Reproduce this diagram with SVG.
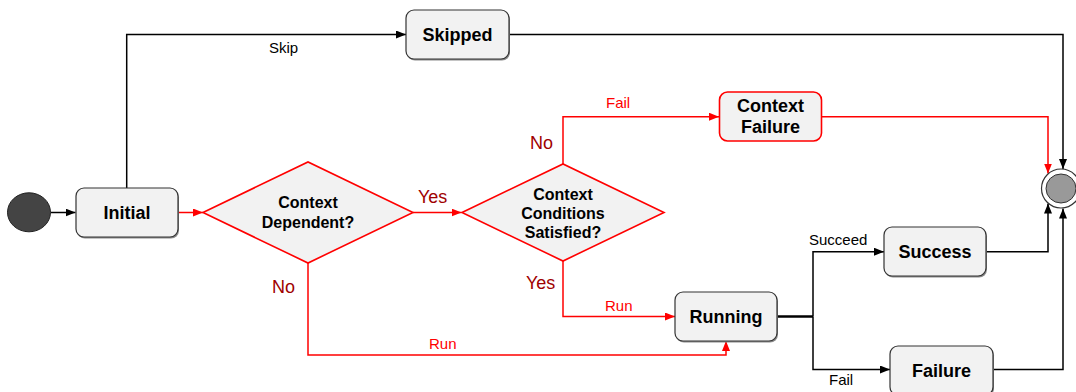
<svg xmlns="http://www.w3.org/2000/svg" width="1076" height="392" viewBox="0 0 1076 392">
<style>
.node{fill:#f2f2f2;stroke:#333;stroke-width:1.2}
.shadow{fill:#8a8a8a}
.rnode{fill:#f2f2f2;stroke:#ff0000;stroke-width:1.6}
.nt{font-family:"Liberation Sans",Arial,sans-serif;font-weight:bold;font-size:18px;fill:#000;text-anchor:middle}
.dt{font-family:"Liberation Sans",Arial,sans-serif;font-weight:bold;font-size:16px;fill:#000;text-anchor:middle}
.lb{font-family:"Liberation Sans",Arial,sans-serif;font-size:15px;fill:#000}
.lr{font-family:"Liberation Sans",Arial,sans-serif;font-size:15px;fill:#ff0000}
.ld{font-family:"Liberation Sans",Arial,sans-serif;font-size:18px;fill:#a00000}
.blk{fill:none;stroke:#000;stroke-width:1.5}
.red{fill:none;stroke:#ff0000;stroke-width:1.5}
</style>
<defs>
<marker id="ab" viewBox="0 0 10 8" refX="10" refY="4" markerWidth="10" markerHeight="8" markerUnits="userSpaceOnUse" orient="auto"><path d="M0,0 L10,4 L0,8 Z" fill="#000"/></marker>
<marker id="ar" viewBox="0 0 10 8" refX="10" refY="4" markerWidth="10" markerHeight="8" markerUnits="userSpaceOnUse" orient="auto"><path d="M0,0 L10,4 L0,8 Z" fill="#ff0000"/></marker>
</defs>

<g id="connectors">
<path class="blk" d="M50.7,212.5 H75.5" marker-end="url(#ab)"/>
<path class="blk" d="M126.7,188 V34.5 H406" marker-end="url(#ab)"/>
<path class="blk" d="M509,34.5 H1063 V169" marker-end="url(#ab)"/>
<path class="red" d="M178,212.5 H203" marker-end="url(#ar)"/>
<path class="red" d="M413,212.5 H461.5" marker-end="url(#ar)"/>
<path class="red" d="M563,164 V116.7 H719" marker-end="url(#ar)"/>
<path class="red" d="M822,116.7 H1048 V173.5" marker-end="url(#ar)"/>
<path class="red" d="M563,261 V316.5 H675" marker-end="url(#ar)"/>
<path class="red" d="M308,263 V355 H726 V341" marker-end="url(#ar)"/>
<path fill="none" stroke="#000" stroke-width="2.5" d="M777,316.5 H813"/>
<path class="blk" d="M813,316.5 V251.7 H884" marker-end="url(#ab)"/>
<path class="blk" d="M813,316.5 V369.5 H890" marker-end="url(#ab)"/>
<path class="blk" d="M986,251.7 H1048 V203.5" marker-end="url(#ab)"/>
<path class="blk" d="M993,369.5 H1063 V208.5" marker-end="url(#ab)"/>
<text class="lb" x="269" y="52.5">Skip</text>
<text class="ld" x="418" y="203">Yes</text>
<text class="ld" x="530" y="149">No</text>
<text class="lr" x="606" y="108">Fail</text>
<text class="ld" x="526" y="289">Yes</text>
<text class="lr" x="605" y="311">Run</text>
<text class="ld" x="272" y="293">No</text>
<text class="lr" x="429" y="349">Run</text>
<text class="lb" x="809" y="245">Succeed</text>
<text class="lb" x="829" y="385">Fail</text>
</g>

<g id="start">
<ellipse cx="29" cy="212.3" rx="21.5" ry="19.5" fill="#444" stroke="#222" stroke-width="1"/>
</g>

<g id="initial">
<rect class="shadow" x="77" y="189.5" width="102" height="49" rx="8"/>
<rect class="node" x="76" y="188" width="102" height="49" rx="8"/>
<text class="nt" x="127" y="219">Initial</text>
</g>

<g id="skipped">
<rect class="shadow" x="407" y="11.5" width="103" height="49" rx="8"/>
<rect class="node" x="406" y="10" width="103" height="49" rx="8"/>
<text class="nt" x="457.5" y="41">Skipped</text>
</g>

<g id="context-dependent">
<polygon points="203,212.5 308,162 413,212.5 308,263" fill="#f2f2f2" stroke="#ff0000" stroke-width="1.6"/>
<text class="dt" x="308" y="208">Context</text>
<text class="dt" x="308" y="228">Dependent?</text>
</g>

<g id="context-conditions">
<polygon points="462,212.5 563,164 664,212.5 563,261" fill="#f2f2f2" stroke="#ff0000" stroke-width="1.6"/>
<text class="dt" x="563" y="199.5">Context</text>
<text class="dt" x="563" y="218.5">Conditions</text>
<text class="dt" x="563" y="237.5">Satisfied?</text>
</g>

<g id="context-failure">
<rect class="rnode" x="719.5" y="92" width="102" height="49" rx="8"/>
<text class="nt" x="770.5" y="111.7">Context</text>
<text class="nt" x="770.5" y="133.3">Failure</text>
</g>

<g id="running">
<rect class="shadow" x="676" y="293.5" width="102" height="49" rx="8"/>
<rect class="node" x="675" y="292" width="102" height="49" rx="8"/>
<text class="nt" x="726" y="323">Running</text>
</g>

<g id="success">
<rect class="shadow" x="885" y="228.5" width="102" height="49" rx="8"/>
<rect class="node" x="884" y="227" width="102" height="49" rx="8"/>
<text class="nt" x="935" y="258">Success</text>
</g>

<g id="failure">
<rect class="shadow" x="891" y="347.5" width="103" height="49" rx="8"/>
<rect class="node" x="890" y="346" width="103" height="49" rx="8"/>
<text class="nt" x="941.5" y="377">Failure</text>
</g>

<g id="final">
<circle cx="1061" cy="188.5" r="19.5" fill="#fff" stroke="#333" stroke-width="1.2"/>
<ellipse cx="1061" cy="188.5" rx="15" ry="14.5" fill="#999" stroke="#333" stroke-width="1"/>
</g>
</svg>
